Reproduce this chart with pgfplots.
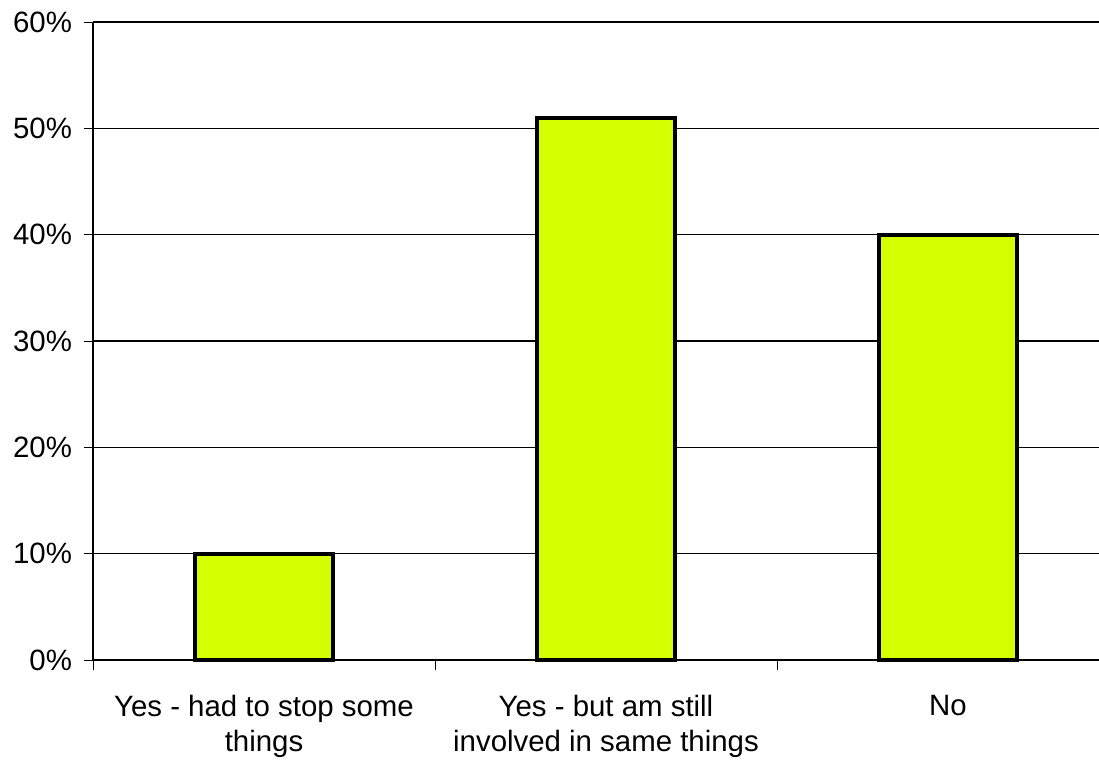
\documentclass[border=0pt]{standalone}
\usepackage{pgfplots}
\pgfplotsset{compat=1.18}
\usepackage{fontspec}
\setmainfont{Liberation Sans}
\definecolor{barfill}{RGB}{212,255,0}
\begin{document}
\begin{tikzpicture}
\useasboundingbox (-46.5bp,-50bp) rectangle (503bp,330bp);
\begin{axis}[
  scale only axis,
  width=513bp, height=319bp,
  xmin=-0.5, xmax=2.5,
  ymin=0, ymax=60,
  axis x line=bottom, axis y line=left,
  axis line style={-, line width=0.6bp, black},
  ybar, bar width=69bp,
  xtick={0,1,2},
  xticklabels={{Yes - had to stop some\\things},{Yes - but am still\\involved in same things},{No}},
  major x tick style={draw=none},
  minor xtick={-0.5,0.5,1.5},
  minor tick length=5bp,
  ytick={0,10,...,60},
  yticklabel={\pgfmathprintnumber{\tick}\%},
  /pgf/number format/assume math mode=true,
  tick align=outside,
  major tick length=4.5bp,
  tick style={black, line width=0.5bp},
  ymajorgrids,
  grid style={black, line width=0.6bp},
  tick label style={font=\fontsize{14.7bp}{17.5bp}\selectfont},
  xticklabel style={align=center, yshift=-9.5bp},
  yticklabel style={xshift=-2.5bp},
  clip=false,
]
\addplot[fill=barfill, draw=black, line width=2bp] coordinates {(0,10) (1,51) (2,40)};
\end{axis}
\end{tikzpicture}
\end{document}
